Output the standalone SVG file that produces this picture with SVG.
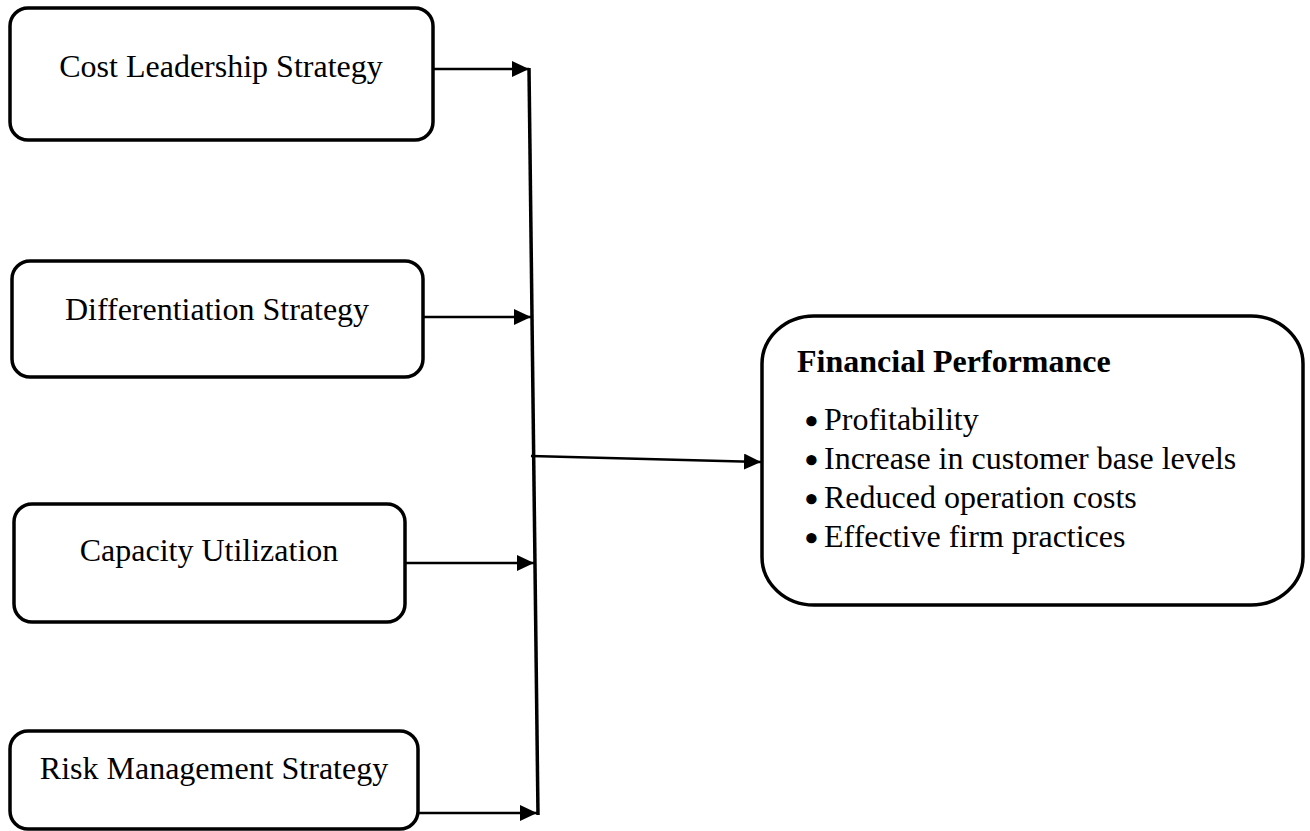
<svg xmlns="http://www.w3.org/2000/svg" width="1310" height="831" viewBox="0 0 1310 831">
  <style>
    .box { fill: #ffffff; stroke: #000000; stroke-width: 3.5; }
    .label { font-family: "Liberation Serif", "Times New Roman", serif; font-size: 32px; fill: #000000; }
    .title { font-family: "Liberation Serif", "Times New Roman", serif; font-size: 32px; font-weight: bold; fill: #000000; }
    .bullet { font-family: "Liberation Serif", "Times New Roman", serif; font-size: 38px; font-weight: bold; fill: #000000; }
    .conn { fill: none; stroke: #000000; stroke-width: 2.5; }
    .bus { fill: none; stroke: #000000; stroke-width: 3.5; }
  </style>
  <defs>
    <marker id="arrow" markerUnits="userSpaceOnUse" markerWidth="18" markerHeight="16" refX="17" refY="8" orient="auto">
      <path d="M0,0 L17,8 L0,16 Z" fill="#000000"/>
    </marker>
  </defs>
  <rect width="1310" height="831" fill="#ffffff"/>

  <!-- strategy nodes -->
  <g id="cost-leadership">
    <rect class="box" x="10" y="8" width="423" height="132" rx="18" ry="18"/>
    <text class="label" x="221" y="77" text-anchor="middle">Cost Leadership Strategy</text>
  </g>
  <g id="differentiation">
    <rect class="box" x="12" y="261" width="411" height="116" rx="18" ry="18"/>
    <text class="label" x="217" y="320" text-anchor="middle">Differentiation Strategy</text>
  </g>
  <g id="capacity-utilization">
    <rect class="box" x="14" y="504" width="391" height="118" rx="18" ry="18"/>
    <text class="label" x="209" y="561" text-anchor="middle">Capacity Utilization</text>
  </g>
  <g id="risk-management">
    <rect class="box" x="10" y="731" width="408" height="98" rx="18" ry="18"/>
    <text class="label" x="214" y="779" text-anchor="middle">Risk Management Strategy</text>
  </g>

  <!-- outcome node -->
  <g id="financial-performance">
    <rect class="box" x="762" y="316" width="541" height="289" rx="52" ry="48"/>
    <text class="title" x="797" y="372">Financial Performance</text>
    <text class="bullet" x="811.5" y="434" text-anchor="middle">•</text>
    <text class="label" x="824" y="430">Profitability</text>
    <text class="bullet" x="811.5" y="473" text-anchor="middle">•</text>
    <text class="label" x="824" y="469">Increase in customer base levels</text>
    <text class="bullet" x="811.5" y="512" text-anchor="middle">•</text>
    <text class="label" x="824" y="508">Reduced operation costs</text>
    <text class="bullet" x="811.5" y="551" text-anchor="middle">•</text>
    <text class="label" x="824" y="547">Effective firm practices</text>
  </g>

  <!-- connectors -->
  <g id="connectors">
    <line class="conn" x1="433" y1="69" x2="529" y2="69" marker-end="url(#arrow)"/>
    <line class="conn" x1="423" y1="317" x2="531" y2="317" marker-end="url(#arrow)"/>
    <line class="conn" x1="405" y1="563" x2="534" y2="563" marker-end="url(#arrow)"/>
    <line class="conn" x1="418" y1="813" x2="537" y2="813" marker-end="url(#arrow)"/>
    <line class="bus" x1="529" y1="68" x2="538" y2="815"/>
    <line class="conn" x1="531" y1="456" x2="761" y2="462" marker-end="url(#arrow)"/>
  </g>
</svg>
